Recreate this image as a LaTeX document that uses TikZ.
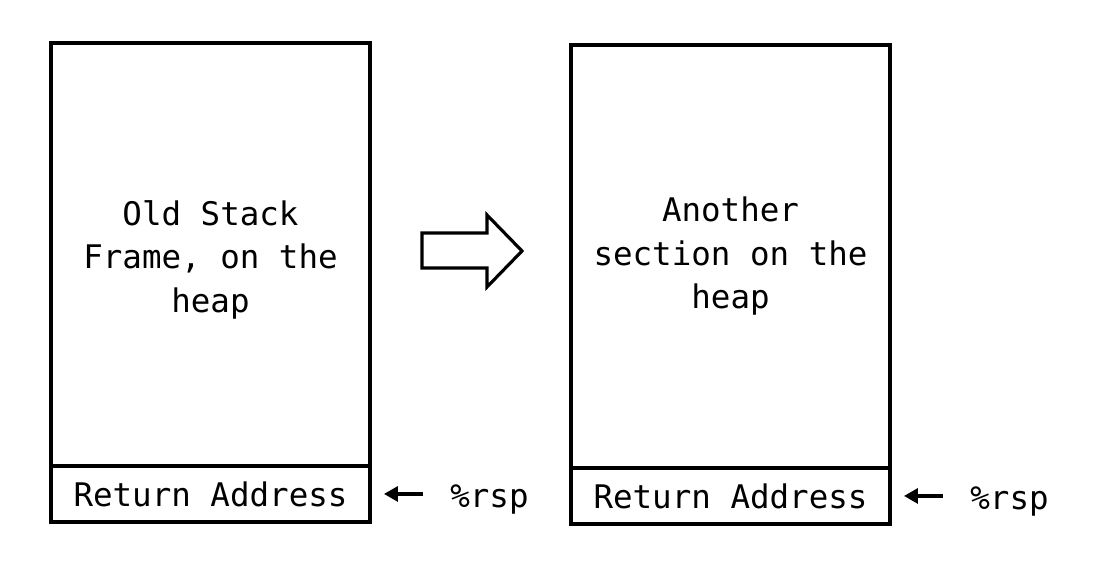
\documentclass[tikz,border=0pt]{standalone}
\usepackage{fontspec}
\setmonofont{DejaVu Sans Mono}
\usetikzlibrary{arrows.meta}
\tikzset{
	frame/.style={draw, line width=1.8pt, outer sep=0pt, minimum width=6.38cm, inner sep=0pt, align=center,
		font=\ttfamily\fontsize{18.5}{24.75}\selectfont},
	retbox/.style={frame, minimum height=1.12cm},
	ptr/.style={-{Triangle[length=0.28cm,width=0.3cm]}, line width=1.8pt, shorten <=0.54cm, shorten >=0.28cm},
	reglabel/.style={anchor=base west, inner sep=0pt, font=\ttfamily\fontsize{18.5}{24.75}\selectfont}
}
\begin{document}
\begin{tikzpicture}[x=0.02cm,y=-0.02cm]
		\useasboundingbox (0,0) rectangle (1094,570);
		%draw old frame
		\node[frame, minimum height=8.46cm] (old) at (210.5,254.5) {};
		\node[align=center, font=\ttfamily\fontsize{18.5}{24.75}\selectfont] (oldtext) at ([yshift=-0.1cm]old.center) {Old Stack\\Frame, on the\\heap};
		\node[retbox, anchor=north] (oldret) at (old.south) {Return Address};
		\node[reglabel] (oldrsp) at (450,507) {\%rsp};
		\draw[ptr] (oldrsp.west |- oldret.east) -- (oldret.east);
		%draw new frame
		\node[frame, minimum height=8.46cm] (new) at (730.5,256.5) {Another\\section on the\\heap};
		\node[retbox, anchor=north] (newret) at (new.south) {Return Address};
		\node[reglabel] (newrsp) at (970,509) {\%rsp};
		\draw[ptr] (newrsp.west |- newret.east) -- (newret.east);
		%draw big arrow
		\draw[line width=1.8pt, line join=miter] (422,233) -- (487,233) -- (487,215) -- (522,251)
			-- (487,287) -- (487,268) -- (422,268) -- cycle;
	\end{tikzpicture}
\end{document}
